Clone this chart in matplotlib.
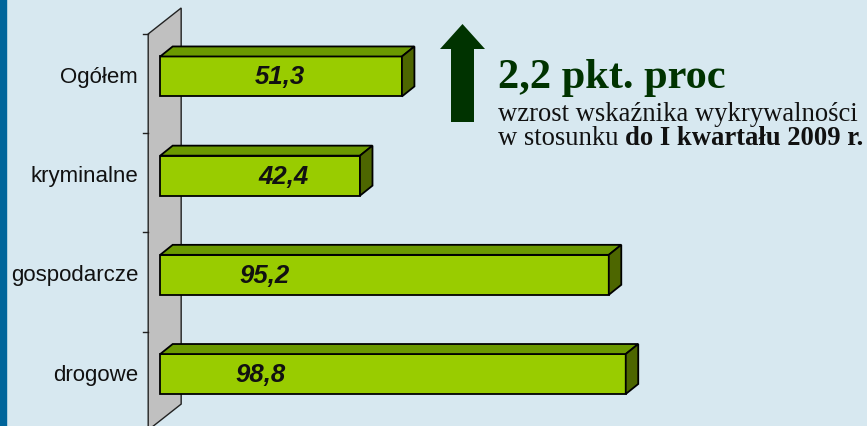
import matplotlib
matplotlib.use("Agg")
import matplotlib.pyplot as plt
from matplotlib.patches import Polygon, Rectangle, FancyArrow

# data
categories = ["Ogółem", "kryminalne", "gospodarcze", "drogowe"]
values = [51.3, 42.4, 95.2, 98.8]
value_labels = ["51,3", "42,4", "95,2", "98,8"]

# layout
label_x = [25.5, 26.1, 22.1, 21.2]
bg = "#d7e8f0"
front = "#99cc00"
top = "#6b9900"
side = "#4d6600"

fig = plt.figure(figsize=(8.67, 4.27), dpi=100, facecolor=bg)
ax = fig.add_axes([0, 0, 1, 1])
ax.set_facecolor("none")
ax.set_xlim(-34, 150)
ax.set_ylim(3.524, -0.781)
ax.axis("off")

# depth of the 3d effect in data units
dx, dy = 2.65, 0.101
h = 0.403

# back wall
wx0, wdx, wdy = -2.55, 7.0, 0.262
wtop, wbot = -0.4286, 3.565
wall = Polygon([(wx0, wbot), (wx0, wtop), (wx0 + wdx, wtop - wdy),
                (wx0 + wdx, wbot - wdy)], closed=True,
               facecolor="#c0c0c0", edgecolor="#222222", lw=1, zorder=1)
ax.add_patch(wall)
for i in range(len(categories) + 1):
    ax.plot([-3.6, wx0], [i + wtop, i + wtop], color="#222222", lw=1, zorder=2)

y = list(range(len(categories)))
ax.barh(y, values, height=h, left=0, color=front, edgecolor="black",
        lw=1.3, zorder=3)
for yi, v in zip(y, values):
    yt = yi - h / 2
    yb = yi + h / 2
    ax.add_patch(Polygon([(0, yt), (v, yt), (v + dx, yt - dy), (dx, yt - dy)],
                         closed=True, facecolor=top, edgecolor="black",
                         lw=1.3, zorder=3))
    ax.add_patch(Polygon([(v, yt), (v + dx, yt - dy), (v + dx, yb - dy), (v, yb)],
                         closed=True, facecolor=side, edgecolor="black",
                         lw=1.3, zorder=3))

for yi, cat, lab, lx in zip(y, categories, value_labels, label_x):
    ax.text(-4.67, yi, cat, ha="right", va="center", fontsize=16,
            family="Liberation Sans", color="#111111", zorder=4)
    ax.text(lx, yi, lab, ha="center", va="center", fontsize=18.5,
            family="Liberation Sans", fontweight="bold", fontstyle="italic",
            color="#111111", zorder=4)

# overlay in pixel coordinates for the annotation
ov = fig.add_axes([0, 0, 1, 1])
ov.set_xlim(0, 867)
ov.set_ylim(427, 0)
ov.set_facecolor("none")
ov.axis("off")

ov.add_patch(Rectangle((0, 0), 6, 427, color="#00659b"))
ov.add_patch(FancyArrow(462.5, 123, 0, -98, width=23, head_width=45,
                        head_length=25, length_includes_head=True,
                        color="#003300", lw=0))

ov.text(498, 88, "2,2 pkt. proc", ha="left", va="baseline", fontsize=30.5,
        family="Liberation Serif", fontweight="bold", color="#003300")
ov.text(498, 120.7, "wzrost wskaźnika wykrywalności", ha="left", va="baseline",
        fontsize=19.2, family="Liberation Serif", color="#111111")
t1 = ov.text(498, 145, "w stosunku ", ha="left", va="baseline",
             fontsize=19.2, family="Liberation Serif", color="#111111")

# place the bold part right after the regular part
fig.canvas.draw()
bb = t1.get_window_extent(fig.canvas.get_renderer())
x_next = ov.transData.inverted().transform((bb.x1, bb.y0))[0]
ov.text(x_next, 145, "do I kwartału 2009 r.", ha="left", va="baseline",
        fontsize=19.2, family="Liberation Serif", fontweight="bold", color="#111111")

fig.savefig("out.png", dpi=100, facecolor=bg)
